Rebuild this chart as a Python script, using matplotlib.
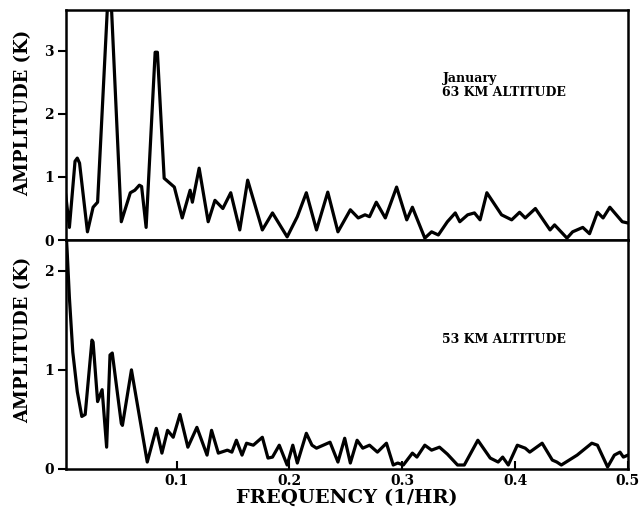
import numpy as np
import matplotlib
matplotlib.use("Agg")
import matplotlib.pyplot as plt

# 63 km spectrum (frequency in 1/hr, amplitude in K)
freq_63 = [0.001, 0.005, 0.010, 0.012, 0.014, 0.021, 0.026, 0.030, 0.039, 0.042,
           0.051, 0.059, 0.063, 0.067, 0.069, 0.073, 0.081, 0.083, 0.089, 0.098,
           0.105, 0.112, 0.114, 0.120, 0.128, 0.134, 0.141, 0.148, 0.156, 0.163,
           0.176, 0.185, 0.198, 0.207, 0.215, 0.224, 0.234, 0.243, 0.254, 0.261,
           0.267, 0.271, 0.277, 0.285, 0.295, 0.304, 0.309, 0.320, 0.326, 0.332,
           0.340, 0.347, 0.351, 0.358, 0.364, 0.369, 0.375, 0.388, 0.397, 0.404,
           0.409, 0.418, 0.431, 0.435, 0.446, 0.451, 0.460, 0.466, 0.473, 0.478,
           0.484, 0.495, 0.500]
amp_63 = [0.83, 0.20, 1.25, 1.30, 1.22, 0.13, 0.52, 0.60, 3.80, 3.80,
          0.29, 0.75, 0.79, 0.87, 0.85, 0.20, 2.98, 2.98, 0.98, 0.84,
          0.35, 0.79, 0.60, 1.14, 0.29, 0.63, 0.50, 0.75, 0.16, 0.95,
          0.16, 0.43, 0.05, 0.37, 0.75, 0.16, 0.76, 0.13, 0.48, 0.35,
          0.40, 0.37, 0.60, 0.35, 0.84, 0.32, 0.52, 0.03, 0.13, 0.08,
          0.29, 0.43, 0.29, 0.40, 0.43, 0.32, 0.75, 0.40, 0.32, 0.44,
          0.35, 0.50, 0.16, 0.24, 0.03, 0.13, 0.20, 0.10, 0.44, 0.35,
          0.52, 0.29, 0.27]

# 53 km spectrum
freq_53 = [0.001, 0.003, 0.005, 0.008, 0.012, 0.016, 0.019, 0.025, 0.026, 0.030,
           0.034, 0.038, 0.041, 0.043, 0.051, 0.052, 0.060, 0.074, 0.082, 0.087,
           0.092, 0.097, 0.103, 0.110, 0.118, 0.127, 0.131, 0.137, 0.145, 0.149,
           0.153, 0.158, 0.162, 0.168, 0.176, 0.181, 0.185, 0.191, 0.198, 0.203,
           0.207, 0.215, 0.220, 0.224, 0.236, 0.243, 0.249, 0.254, 0.260, 0.265,
           0.271, 0.278, 0.286, 0.292, 0.296, 0.301, 0.309, 0.313, 0.320, 0.326,
           0.333, 0.340, 0.349, 0.355, 0.367, 0.378, 0.385, 0.389, 0.394, 0.402,
           0.409, 0.413, 0.424, 0.433, 0.437, 0.441, 0.455, 0.468, 0.473, 0.482,
           0.488, 0.493, 0.496, 0.500]
amp_53 = [2.60, 2.20, 1.73, 1.18, 0.78, 0.53, 0.55, 1.30, 1.28, 0.68,
          0.80, 0.22, 1.15, 1.17, 0.46, 0.44, 1.00, 0.07, 0.41, 0.16,
          0.39, 0.32, 0.55, 0.22, 0.42, 0.14, 0.39, 0.16, 0.19, 0.17,
          0.29, 0.14, 0.26, 0.24, 0.32, 0.11, 0.12, 0.24, 0.04, 0.24,
          0.06, 0.36, 0.24, 0.21, 0.27, 0.07, 0.31, 0.06, 0.29, 0.21,
          0.24, 0.17, 0.26, 0.04, 0.06, 0.04, 0.16, 0.12, 0.24, 0.19,
          0.22, 0.15, 0.04, 0.04, 0.29, 0.11, 0.07, 0.12, 0.04, 0.24,
          0.21, 0.17, 0.26, 0.09, 0.07, 0.04, 0.14, 0.26, 0.24, 0.02,
          0.14, 0.17, 0.12, 0.14]

x_ticks = [0.1, 0.2, 0.3, 0.4, 0.5]

plt.rcParams['font.family'] = 'DejaVu Serif'
plt.rcParams['font.weight'] = 'bold'

fig = plt.figure(figsize=(6.44, 5.26), dpi=100)
ax1 = fig.add_axes([0.1025, 0.5437, 0.8725, 0.4373])
ax2 = fig.add_axes([0.1025, 0.1084, 0.8725, 0.4353], sharex=ax1)

for ax in (ax1, ax2):
    for s in ax.spines.values():
        s.set_linewidth(1.8)
    ax.tick_params(axis='y', direction='out', length=6, width=1.5, labelsize=10, pad=3)
    ax.tick_params(axis='x', direction='in', length=6, width=1.5, labelsize=10)

# Top panel: 63 km
ax1.plot(freq_63, amp_63, color='black', lw=2.3, solid_joinstyle='round')
ax1.set_ylim(0, 3.65)
ax1.set_yticks([0, 1, 2, 3])
ax1.set_xlim(0.002, 0.5)
ax1.tick_params(axis='x', bottom=False, labelbottom=False)
ax1.set_ylabel('AMPLITUDE (K)', fontsize=13, fontweight='bold')
ax1.yaxis.set_label_coords(-0.061, 0.552)
ax1.text(0.67, 0.73, 'January\n63 KM ALTITUDE', transform=ax1.transAxes,
         fontsize=9, fontweight='bold', va='top', ha='left', linespacing=1.1)

# Bottom panel: 53 km
ax2.plot(freq_53, amp_53, color='black', lw=2.3, solid_joinstyle='round')
ax2.set_ylim(0, 2.31)
ax2.set_yticks([0, 1, 2])
ax2.set_xticks(x_ticks)
ax2.set_xticklabels(['0.1', '0.2', '0.3', '0.4', '0.5'])
ax2.set_ylabel('AMPLITUDE (K)', fontsize=13, fontweight='bold')
ax2.yaxis.set_label_coords(-0.061, 0.565)
ax2.set_xlabel('FREQUENCY (1/HR)', fontsize=14, fontweight='bold', labelpad=1)
ax2.text(0.67, 0.595, '53 KM ALTITUDE', transform=ax2.transAxes,
         fontsize=9, fontweight='bold', va='top', ha='left')

fig.savefig('out.png', dpi=100)
